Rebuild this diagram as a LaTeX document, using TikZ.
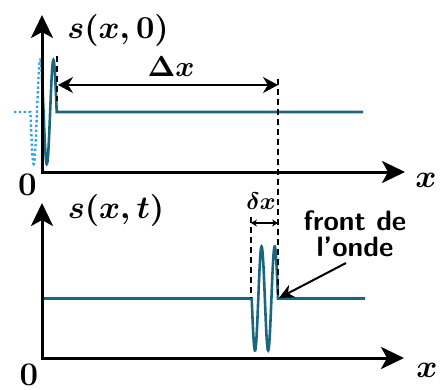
\documentclass[tikz,border=0pt]{standalone}
\usepackage{graphicx}
\usetikzlibrary{arrows.meta}
\definecolor{wave}{RGB}{26,102,124}
\definecolor{ghost}{RGB}{50,165,225}
\newcommand{\Lbl}[2]{\scalebox{#1}{\boldmath$#2$}}
\tikzset{
  axis/.style={line width=3pt, line join=miter,
    {Stealth[length=23pt,width=22pt,inset=6pt]}-{Stealth[length=23pt,width=22pt,inset=6pt]}},
  waveline/.style={wave, line width=2.6pt},
  ghostline/.style={ghost, line width=2.4pt, dash pattern=on 2.4pt off 2.4pt},
  guide/.style={line width=1.1pt, dash pattern=on 6pt off 4pt},
  lab/.style={inner sep=0pt},
  bigdim/.style={line width=1.8pt, {Stealth[length=15pt,width=16pt]}-{Stealth[length=15pt,width=16pt]}},
  smalldim/.style={line width=1.2pt, {Stealth[length=6pt,width=7pt]}-{Stealth[length=6pt,width=7pt]}},
  pointer/.style={line width=2pt, -{Stealth[length=15pt,width=14pt]}},
}
\begin{document}
\begin{tikzpicture}[x=1pt,y=-1pt]
\useasboundingbox (0,0) rectangle (441,390);
% axes
\coordinate (Y1) at (42,15);  \coordinate (O1) at (42,172); \coordinate (X1) at (405,172);
\coordinate (Y2) at (42,203); \coordinate (O2) at (42,358); \coordinate (X2) at (404,358);
% top wave
\draw[ghostline] (14,112) -- (30.4,112) -- plot[domain=30.4:42,samples=40] (\x,{112+52*sin(27.376*(\x-30.4))});
\draw[waveline] plot[domain=42:56.7,samples=50] (\x,{112+52*sin(27.376*(\x-30.4))}) -- (363,112);
% bottom wave
\draw[waveline] (42,298.5) -- (251.7,298.5) -- plot[domain=251.7:278,samples=100] (\x,{298.5+52*sin(27.376*(\x-251.7))}) -- (365,298.5);
\draw[axis] (Y1) -- (O1) -- (X1);
\draw[axis] (Y2) -- (O2) -- (X2);
% guides
\coordinate (g1a) at (57,56);   \coordinate (g1b) at (57,101);
\coordinate (g2a) at (278,79);  \coordinate (g2b) at (278,298);
\coordinate (g3a) at (251,217); \coordinate (g3b) at (251,298);
\draw[guide] (g1a) -- (g1b);
\draw[guide] (g2a) -- (g2b);
\draw[guide] (g3a) -- (g3b);
% dimensions
\coordinate (D1) at (58,85);  \coordinate (D2) at (278,85);
\coordinate (d1) at (251,223); \coordinate (d2) at (278,223);
\draw[bigdim] (D1) -- (D2);
\draw[smalldim] (d1) -- (d2);
% labels
\node[lab] (s0) at (118,31) {\Lbl{3.2}{s(x,0)}};
\node[lab] (st) at (116,210) {\Lbl{3.2}{s(x,t)}};
\node[lab] (x1) at (426,180) {\Lbl{3.2}{x}};
\node[lab] (x2) at (427,370) {\Lbl{3.2}{x}};
\node[lab, font=\fontsize{33}{33}\selectfont\bfseries] (z1) at (27.5,185) {0};
\node[lab, font=\fontsize{33}{33}\selectfont\bfseries] (z2) at (29,375) {0};
\node[lab] (DX) at (171,67) {\Lbl{2.9}{\Delta x}};
\node[lab] (dX) at (261,201) {\Lbl{2.4}{\delta x}};
\node[inner sep=0pt, align=center, font=\fontsize{28}{26}\selectfont\sffamily\bfseries] (front) at (355,234) {front de\\l'onde};
\coordinate (fa) at (346,263); \coordinate (ft) at (279,298);
\draw[pointer] (fa) -- (ft);
\end{tikzpicture}
\end{document}
